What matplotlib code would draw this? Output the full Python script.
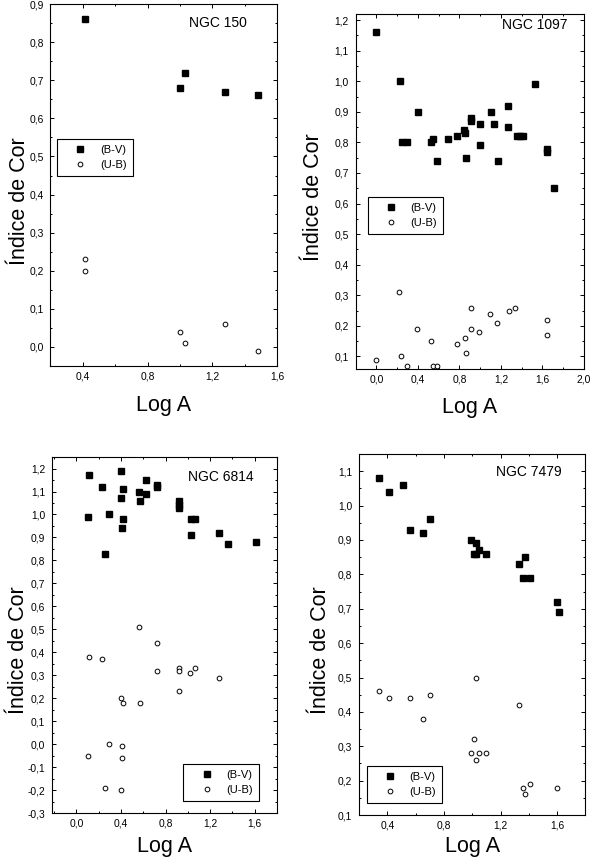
import matplotlib
matplotlib.use('Agg')
import matplotlib.pyplot as plt
from matplotlib.ticker import MultipleLocator, FuncFormatter

# NGC 150
ngc150_bv_x = [0.41, 1.00, 1.03, 1.28, 1.48]
ngc150_bv_y = [0.86, 0.68, 0.72, 0.67, 0.66]
ngc150_ub_x = [0.41, 0.41, 1.00, 1.03, 1.28, 1.48]
ngc150_ub_y = [0.23, 0.20, 0.04, 0.01, 0.06, -0.01]

# NGC 1097
ngc1097_bv_x = [0.00, 0.23, 0.25, 0.29, 0.40, 0.53, 0.55, 0.58, 0.69, 0.78, 0.84, 0.85,
                0.86, 0.91, 0.91, 1.00, 1.00, 1.10, 1.13, 1.17, 1.27, 1.27, 1.35, 1.38,
                1.41, 1.53, 1.64, 1.64, 1.71]
ngc1097_bv_y = [1.16, 1.00, 0.80, 0.80, 0.90, 0.80, 0.81, 0.74, 0.81, 0.82, 0.84, 0.83,
                0.75, 0.88, 0.87, 0.79, 0.86, 0.90, 0.86, 0.74, 0.92, 0.85, 0.82, 0.82,
                0.82, 0.99, 0.78, 0.77, 0.65]
ngc1097_ub_x = [0.00, 0.22, 0.24, 0.29, 0.39, 0.53, 0.55, 0.58, 0.78, 0.85, 0.86, 0.91,
                0.91, 0.99, 1.09, 1.16, 1.28, 1.34, 1.64, 1.64]
ngc1097_ub_y = [0.09, 0.31, 0.10, 0.07, 0.19, 0.15, 0.07, 0.07, 0.14, 0.16, 0.11, 0.26,
                0.19, 0.18, 0.24, 0.21, 0.25, 0.26, 0.22, 0.17]

# NGC 6814
ngc6814_bv_x = [0.11, 0.10, 0.23, 0.26, 0.29, 0.40, 0.40, 0.42, 0.42, 0.41, 0.56, 0.57,
                0.62, 0.62, 0.72, 0.72, 0.92, 0.92, 0.92, 1.03, 1.06, 1.03, 1.28, 1.36,
                1.61]
ngc6814_bv_y = [1.17, 0.99, 1.12, 0.83, 1.00, 1.19, 1.07, 0.98, 1.11, 0.94, 1.10, 1.06,
                1.15, 1.09, 1.13, 1.12, 1.06, 1.04, 1.03, 0.98, 0.98, 0.91, 0.92, 0.87,
                0.88]
ngc6814_ub_x = [0.11, 0.10, 0.23, 0.26, 0.29, 0.40, 0.42, 0.41, 0.41, 0.40, 0.56, 0.57,
                0.72, 0.72, 0.92, 0.92, 0.92, 1.02, 1.06, 1.28]
ngc6814_ub_y = [0.38, -0.05, 0.37, -0.19, 0.00, 0.20, 0.18, -0.01, -0.06, -0.20, 0.51, 0.18,
                0.44, 0.32, 0.33, 0.32, 0.23, 0.31, 0.33, 0.29]

# NGC 7479
ngc7479_bv_x = [0.34, 0.41, 0.51, 0.56, 0.65, 0.70, 0.99, 1.01, 1.03, 1.03, 1.05, 1.10,
                1.33, 1.37, 1.36, 1.41, 1.60, 1.61]
ngc7479_bv_y = [1.08, 1.04, 1.06, 0.93, 0.92, 0.96, 0.90, 0.86, 0.86, 0.89, 0.87, 0.86,
                0.83, 0.85, 0.79, 0.79, 0.72, 0.69]
ngc7479_ub_x = [0.34, 0.41, 0.56, 0.65, 0.70, 0.99, 1.01, 1.03, 1.03, 1.05, 1.10, 1.33,
                1.36, 1.37, 1.41, 1.60]
ngc7479_ub_y = [0.46, 0.44, 0.44, 0.38, 0.45, 0.28, 0.32, 0.50, 0.26, 0.28, 0.28, 0.42,
                0.18, 0.16, 0.19, 0.18]

narrow = ['Liberation Sans Narrow', 'Liberation Sans', 'DejaVu Sans']
plain = ['Liberation Sans', 'DejaVu Sans']


def comma(v, pos):
    s = '%.1f' % v
    if s == '-0.0':
        s = '0.0'
    return s.replace('.', ',')


def panel(ax, bvx, bvy, ubx, uby, name, xlim, ylim, xmaj, name_xy, leg_loc, leg_xy,
          xlab_y, ylab_xy):
    ax.plot(bvx, bvy, 's', color='black', ms=4.2, label='(B-V)')
    ax.plot(ubx, uby, 'o', mfc='white', mec='black', mew=0.7, ms=3.4, label='(U-B)')
    ax.set_xlim(xlim)
    ax.set_ylim(ylim)
    ax.xaxis.set_major_locator(MultipleLocator(xmaj))
    ax.xaxis.set_minor_locator(MultipleLocator(xmaj / 2))
    ax.yaxis.set_major_locator(MultipleLocator(0.1))
    ax.yaxis.set_minor_locator(MultipleLocator(0.05))
    ax.xaxis.set_major_formatter(FuncFormatter(comma))
    ax.yaxis.set_major_formatter(FuncFormatter(comma))
    ax.tick_params(which='both', direction='in', top=True, right=True, width=0.7)
    ax.tick_params(which='major', length=3)
    ax.tick_params(which='minor', length=1.6)
    ax.tick_params(axis='x', pad=4)
    ax.tick_params(axis='y', pad=5)
    for lab in ax.get_xticklabels() + ax.get_yticklabels():
        lab.set_family(narrow)
        lab.set_fontsize(7.4)
    for sp in ax.spines.values():
        sp.set_linewidth(0.8)
    ax.set_xlabel('Log A', family=narrow, fontsize=15.5)
    ax.set_ylabel('Índice de Cor', family=narrow, fontsize=15.5)
    ax.xaxis.set_label_coords(0.5, xlab_y)
    ax.yaxis.set_label_coords(ylab_xy[0], ylab_xy[1])
    ax.text(name_xy[0], name_xy[1], name, transform=ax.transAxes, ha='right', va='center',
            family=plain, fontsize=10)
    leg = ax.legend(loc=leg_loc, bbox_to_anchor=leg_xy, borderaxespad=0, fancybox=False,
                    edgecolor='black', framealpha=1, prop={'family': plain, 'size': 8},
                    handlelength=3.1, handletextpad=0.2, borderpad=0.55, labelspacing=0.4)
    leg.get_frame().set_linewidth(0.8)


fig = plt.figure(figsize=(5.92, 8.58), dpi=100)
ax1 = fig.add_axes([0.0853, 0.5734, 0.3831, 0.4219])
ax2 = fig.add_axes([0.6008, 0.5703, 0.3856, 0.4134])
ax3 = fig.add_axes([0.0878, 0.0524, 0.3801, 0.4149])
ax4 = fig.add_axes([0.6064, 0.0501, 0.3826, 0.4207])

panel(ax1, ngc150_bv_x, ngc150_bv_y, ngc150_ub_x, ngc150_ub_y, 'NGC 150',
      (0.2, 1.6), (-0.05, 0.9), 0.4, (0.866, 0.948), 'upper left', (0.029, 0.627),
      -0.080, (-0.090, 0.456))
panel(ax2, ngc1097_bv_x, ngc1097_bv_y, ngc1097_ub_x, ngc1097_ub_y, 'NGC 1097',
      (-0.2, 2.0), (0.06, 1.22), 0.4, (0.929, 0.969), 'upper left', (0.053, 0.484),
      -0.080, (-0.137, 0.483))
panel(ax3, ngc6814_bv_x, ngc6814_bv_y, ngc6814_ub_x, ngc6814_ub_y, 'NGC 6814',
      (-0.22, 1.8), (-0.3, 1.25), 0.4, (0.898, 0.945), 'lower right', (0.92, 0.034),
      -0.065, (-0.101, 0.459))
panel(ax4, ngc7479_bv_x, ngc7479_bv_y, ngc7479_ub_x, ngc7479_ub_y, 'NGC 7479',
      (0.2, 1.8), (0.1, 1.15), 0.4, (0.895, 0.949), 'lower left', (0.034, 0.034),
      -0.058, (-0.123, 0.457))

fig.savefig('out.png', dpi=100)
